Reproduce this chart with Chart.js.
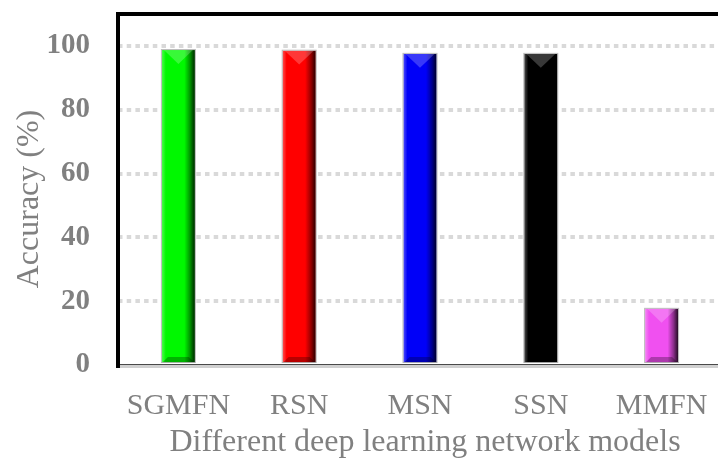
<!DOCTYPE html>
<html>
<head>
<meta charset="utf-8">
<script src="https://cdn.jsdelivr.net/npm/chart.js@4/dist/chart.umd.min.js"></script>
<style>
  html, body { margin: 0; padding: 0; background: #fff; overflow: hidden; width: 718px; height: 462px; }
  #wrap { width: 724px; height: 462px; }
</style>
</head>
<body>
<div id="wrap"><canvas id="c" width="724" height="462"></canvas></div>
<script>
// Accuracy of each network model (%)
const models = ['SGMFN', 'RSN', 'MSN', 'SSN', 'MMFN'];
const accuracy = [98.7, 98.5, 97.5, 97.5, 17.6];
const barColors = ['#00f800', '#ff0000', '#0000f8', '#000000', '#f050f0'];
const yTicks = [0, 20, 40, 60, 80, 100];
const yTitle = 'Accuracy (%)';
const xTitle = 'Different deep learning network models';

const SERIF = '"Liberation Serif", "Times New Roman", serif';
const GREY = '#808080';

// Bevelled bar shading, plot frame and axis titles
const framePlugin = {
  id: 'frame',
  afterDatasetsDraw(chart) {
    const { ctx, chartArea: a } = chart;
    const meta = chart.getDatasetMeta(0);
    meta.data.forEach((bar) => {
      const { x, y, base, width } = bar.getProps(['x', 'y', 'base', 'width'], true);
      const l = x - width / 2, r = x + width / 2, h = base - y;
      ctx.save();
      // side shading: light left edge, dark right edge
      const g = ctx.createLinearGradient(l, 0, r, 0);
      g.addColorStop(0, 'rgba(255,255,255,0.30)');
      g.addColorStop(0.12, 'rgba(255,255,255,0)');
      g.addColorStop(0.68, 'rgba(0,0,0,0)');
      g.addColorStop(0.86, 'rgba(0,0,0,0.42)');
      g.addColorStop(1, 'rgba(0,0,0,0.85)');
      ctx.fillStyle = g;
      ctx.fillRect(l, y, width, h);
      // top bevel
      const d = Math.min(width * 0.42, h / 2);
      ctx.beginPath();
      ctx.moveTo(l + 2, y);
      ctx.lineTo(r - 2, y);
      ctx.lineTo(x, y + d);
      ctx.closePath();
      ctx.fillStyle = 'rgba(255,255,255,0.22)';
      ctx.fill();
      // bottom bevel
      const b = Math.min(6, h / 4);
      ctx.beginPath();
      ctx.moveTo(l, base);
      ctx.lineTo(r, base);
      ctx.lineTo(r - b, base - b);
      ctx.lineTo(l + b, base - b);
      ctx.closePath();
      ctx.fillStyle = 'rgba(0,0,0,0.28)';
      ctx.fill();
      // thin outline
      ctx.strokeStyle = 'rgba(180,180,180,0.9)';
      ctx.lineWidth = 1;
      ctx.strokeRect(l - 0.5, y - 0.5, width + 1, h);
      ctx.restore();
    });

    ctx.save();
    // bottom axis line
    ctx.fillStyle = '#d0d0d0';
    ctx.fillRect(a.left, a.bottom, a.right - a.left, 3);
    ctx.fillStyle = '#4a4a4a';
    ctx.fillRect(a.left, a.bottom - 1, a.right - a.left, 1);
    // left and top frame
    ctx.fillStyle = '#000';
    ctx.fillRect(a.left - 2, a.top - 2, 4, a.bottom + 3 - (a.top - 2));
    ctx.fillRect(a.left - 2, a.top - 2, a.right - a.left + 4, 4);
    ctx.restore();
  },
  afterDraw(chart) {
    const { ctx } = chart;
    ctx.save();
    ctx.fillStyle = GREY;
    ctx.font = '32px ' + SERIF;
    ctx.textAlign = 'center';
    ctx.textBaseline = 'alphabetic';
    ctx.fillText(xTitle, 425, 451);
    ctx.translate(38, 199);
    ctx.rotate(-Math.PI / 2);
    ctx.fillText(yTitle, 0, 0);
    ctx.restore();
  }
};

new Chart(document.getElementById('c'), {
  type: 'bar',
  data: {
    labels: models,
    datasets: [{
      data: accuracy,
      backgroundColor: barColors,
      borderWidth: 0,
      barPercentage: 0.273,
      categoryPercentage: 1
    }]
  },
  options: {
    responsive: false,
    devicePixelRatio: 1,
    animation: false,
    layout: { padding: { top: 14, right: 2, left: 0, bottom: 0 } },
    plugins: { legend: { display: false }, tooltip: { enabled: false } },
    scales: {
      x: {
        grid: { display: false, drawTicks: false },
        border: { display: false },
        ticks: {
          color: GREY,
          padding: 23,
          maxRotation: 0,
          font: { family: SERIF, size: 30 }
        },
        afterFit(scale) {
          scale.height = 97;
          scale.paddingLeft = 0;
          scale.paddingRight = 0;
        }
      },
      y: {
        min: 0,
        max: 110,
        afterBuildTicks(scale) { scale.ticks = yTicks.map(v => ({ value: v })); },
        grid: {
          drawTicks: false,
          lineWidth: 4,
          color: (c) => (c.tick && c.tick.value === 0) ? 'rgba(0,0,0,0)' : '#d9d9d9'
        },
        border: { display: false, dash: [4.5, 4.2] },
        ticks: {
          color: GREY,
          padding: 28,
          font: { family: SERIF, size: 29, weight: 'bold' }
        },
        afterFit(scale) {
          scale.width = 118;
          scale.paddingTop = 0;
          scale.paddingBottom = 0;
        }
      }
    }
  },
  plugins: [framePlugin]
});
</script>
</body>
</html>
